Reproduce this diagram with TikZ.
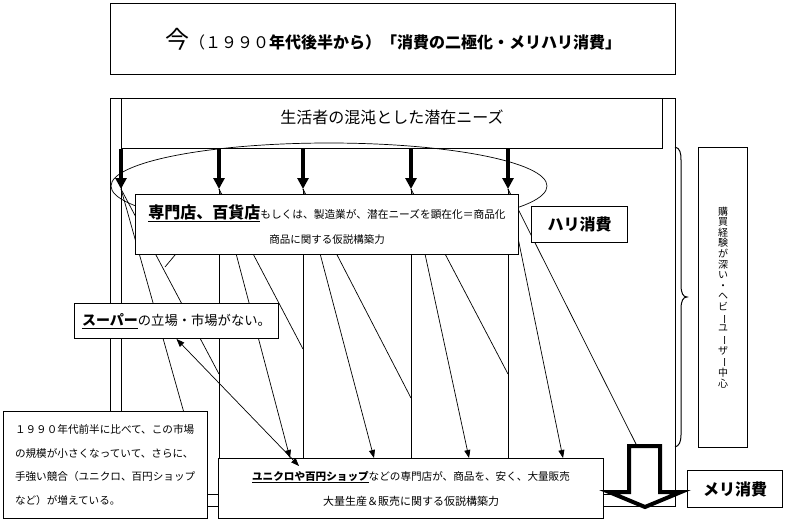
\documentclass[tikz,border=0pt]{standalone}
\usepackage{fontspec}
\setmainfont{Noto Sans CJK JP}
\usetikzlibrary{arrows.meta,backgrounds}

\tikzset{
  box/.style={draw, fill=white, line width=1pt, inner sep=0pt},
  fine/.style={line width=0.7pt},
  fat/.style={line width=3.5pt, -{Triangle[length=11pt,width=11pt]}},
  sharp/.style={line width=0.7pt, -{Triangle[length=8pt,width=6pt]}},
}
\newcommand{\fs}[1]{\fontsize{#1}{#1}\selectfont}
\newcommand{\tate}{\rotatebox[origin=c]{-90}{ー}}

\begin{document}
\begin{tikzpicture}[x=1pt,y=-1pt]
\useasboundingbox (0,0) rectangle (786,522);

\node[box, minimum width=565, minimum height=71, anchor=north west] (ima) at (110,3)
  {\fs{24}今\fs{16}（１９９０\bfseries 年代後半から）「消費の二極化・メリハリ消費」};
\node[box, fill=none, minimum width=541, minimum height=50, anchor=north west] (needs) at (121,98) {};
\node[font=\fs{16}] (needstext) at (392,117) {生活者の混沌とした潜在ニーズ};

\node[box, minimum width=383, minimum height=60, anchor=north west, align=center,
  font=\fontsize{10.5}{25}\selectfont] (senmon) at (135,194)
  {\fs{16}\bfseries\underline{専門店、百貨店}\fs{10.7}\mdseries もしくは、製造業が、潜在ニーズを顕在化＝商品化\\
   商品に関する仮説構築力};
\node[box, minimum width=204, minimum height=35, anchor=north west] (super) at (74,303)
  {\fs{14}\bfseries\underline{スーパー}\fs{13.3}\mdseries の立場・市場がない。};
\node[box, minimum width=204, minimum height=107, anchor=north west, align=left, text width=181pt,
  font=\fontsize{10.6}{23.7}\selectfont] (zenhan) at (3,411)
  {１９９０年代前半に比べて、この市場\\の規模が小さくなっていて、さらに、\\手強い競合（ユニクロ、百円ショップ\\など）が増えている。};
\node[box, minimum width=385, minimum height=60, anchor=north west, align=center,
  font=\fontsize{10.6}{25}\selectfont] (uniqlo) at (218,458)
  {\bfseries\underline{ユニクロや百円ショップ}\mdseries などの専門店が、商品を、安く、大量販売\\
   \fs{11}大量生産＆販売に関する仮説構築力};
\node[box, minimum width=96, minimum height=36, anchor=north west, font=\fs{16}\bfseries] (hari) at (531,206) {ハリ消費};
\node[box, minimum width=95, minimum height=37, anchor=north west, font=\fs{16}\bfseries] (meri) at (687,470) {メリ消費};
\node[box, minimum width=49, minimum height=300, anchor=north west, align=center,
  font=\fontsize{10}{10.6}\selectfont] (heavy) at (698,147)
  {購\\買\\経\\験\\が\\深\\い\\・\\ヘ\\ビ\\\tate\\ユ\\\tate\\ザ\\\tate\\中\\心};

\begin{scope}[on background layer]
  \draw[line width=1pt] (110,98) rectangle (675,506);
  \draw[line width=1pt] (needs.south west) -- (121,494) -- (630,494);
  \draw[fine] (329,186) ellipse [x radius=218pt, y radius=43pt];
  \foreach \x [count=\i] in {121,219,303,411,508}
    \coordinate (t\i) at (\x,189);
  \foreach \i in {2,...,5}
    \draw[line width=1pt] (t\i) -- (t\i |- uniqlo.north);
  \foreach \n/\p in {e1/{186,420},e2/{219,374},e3/{303,349},e4/{411,398},e5/{508,374},e6/{637,446},
                     a2/{290,458},a3/{374,458},a4/{469,458},a5/{563,458}}
    \coordinate (\n) at (\p);
  \draw[fine] (t1) -- (e1);
  \draw[fine] (t1) -- (e2);
  \draw[fine] (t2) -- (e3);
  \draw[fine] (t3) -- (e4);
  \draw[fine] (t4) -- (e5);
  \draw[fine] (t5) -- (e6);
  \draw[fine] (175,255) -- (165,267);
  \foreach \i in {2,...,5}
    \draw[sharp] (t\i) -- (a\i);
  \foreach \i in {1,...,5}
    \draw[fat] (needs.south -| t\i) -- (t\i);
\end{scope}

\coordinate (hit) at (299,466);
\draw[fine, {Triangle[length=8pt,width=6pt]}-{Triangle[length=8pt,width=6pt]}] (super.south) -- (hit);

\draw[line width=1pt] (675,147) .. controls (680,148) and (681,153) .. (681,160) -- (681,285)
  .. controls (681,293) and (683,297) .. (687,297) .. controls (683,297) and (681,301) .. (681,309)
  -- (681,435) .. controls (681,442) and (679,446) .. (675,447);

\draw[line width=4pt, fill=white, line join=miter] (629,446) -- (660,446) -- (660,492) -- (681,492)
  -- (645,507) -- (609,492) -- (629,492) -- cycle;
\end{tikzpicture}
\end{document}
